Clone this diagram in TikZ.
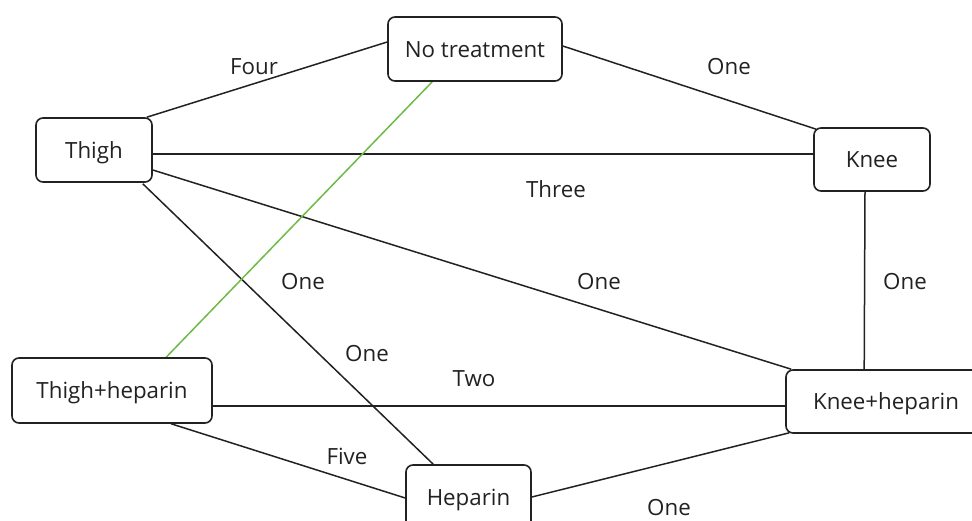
\documentclass[tikz,border=0pt]{standalone}
\usepackage{fontspec}
\setmainfont{Open Sans}
\usetikzlibrary{calc,backgrounds}
\definecolor{ink}{HTML}{222222}
\definecolor{grn}{HTML}{6DBB45}
\begin{document}
\begin{tikzpicture}[x=1pt,y=-1pt,
  box/.style={draw=ink,line width=1.6pt,rounded corners=7pt,fill=white,text=ink,
    inner sep=0pt,text height=16.5pt,text depth=0pt,
    font=\fontsize{22.3}{26}\selectfont},
  lbl/.style={text=ink,inner sep=0pt,text height=16.5pt,text depth=0pt,
    font=\fontsize{22.3}{26}\selectfont},
  edge/.style={draw=ink,line width=1.5pt},
  gedge/.style={draw=grn,line width=1.5pt}]
\useasboundingbox (0,0) rectangle (972,520);
\node[box,minimum width=174pt,minimum height=64pt] (nt) at (475,49) {No treatment};
\node[box,minimum width=116pt,minimum height=64pt] (thigh) at (94,150) {Thigh};
\node[box,minimum width=116pt,minimum height=63pt] (knee) at (872,159.5) {Knee};
\node[box,minimum width=200pt,minimum height=65pt] (th) at (112,390.5) {Thigh+heparin};
\node[box,minimum width=200pt,minimum height=63pt] (kh) at (886,401.5) {Knee+heparin};
\node[box,minimum width=125pt,minimum height=64pt] (hep) at (468.5,497) {Heparin};
\begin{scope}[on background layer]
\draw[edge] ($(thigh.north east)+(-6,0)$) -- ($(nt.west)+(0,-7)$);
\draw[edge] ($(nt.east)+(0,-3)$) -- ($(knee.north west)+(3,2)$);
\draw[edge] ($(thigh.east)+(0,4)$) -- ($(knee.west)+(0,-5.5)$);
\draw[edge] ($(thigh.east)+(0,20)$) -- ($(kh.north west)+(6,0)$);
\draw[edge] ($(thigh.south east)+(-10,1)$) -- ($(hep.north west)+(28,0)$);
\draw[gedge] ($(nt.south west)+(45,0)$) -- ($(th.north west)+(155,0)$);
\draw[edge] ($(th.east)+(0,15.5)$) -- ($(kh.west)+(0,4.5)$);
\draw[edge] ($(th.south west)+(160,0)$) -- ($(hep.west)+(0,1)$);
\draw[edge] (hep.east) -- ($(kh.south west)+(4,-1)$);
\draw[edge] ($(knee.south)+(-7,0)$) -- ($(kh.north west)+(79,0)$);
\end{scope}
\node[lbl] (l1) at (254,66) {Four};
\node[lbl] (l2) at (729,66) {One};
\node[lbl] (l3) at (556,189) {Three};
\node[lbl] (l4) at (303,281) {One};
\node[lbl] (l5) at (599,281) {One};
\node[lbl] (l6) at (905,281) {One};
\node[lbl] (l7) at (367,353) {One};
\node[lbl] (l8) at (474,378) {Two};
\node[lbl] (l9) at (347,456) {Five};
\node[lbl] (l10) at (669,507) {One};
\end{tikzpicture}
\end{document}
